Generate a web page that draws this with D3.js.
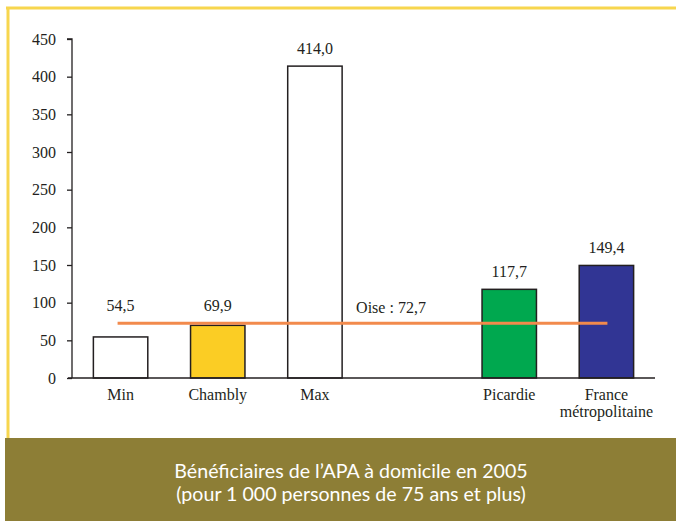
<!DOCTYPE html>
<html lang="fr">
<head>
<meta charset="UTF-8">
<title>APA à domicile</title>
<script src="https://cdn.jsdelivr.net/npm/d3@7"></script>
<style>
  body { margin: 0; background: #fff; }
  svg { display: block; }
  .serif { font-family: 'Liberation Serif', 'Times New Roman', serif; font-size: 16px; fill: #231f20; }
</style>
</head>
<body>
<script>
// données
var categories = ['Min', 'Chambly', 'Max', '', 'Picardie', 'France métropolitaine'];
var values = [54.5, 69.9, 414.0, null, 117.7, 149.4];
var colors = ['#ffffff', '#fbcd24', '#ffffff', null, '#00a84f', '#313594'];
var oise = 72.7;
var yTicks = [0, 50, 100, 150, 200, 250, 300, 350, 400, 450];
var titleLines = ['Bénéficiaires de l’APA à domicile en 2005', '(pour 1 000 personnes de 75 ans et plus)'];

var width = 676, height = 521;
var svg = d3.select('body').append('svg')
    .attr('width', width)
    .attr('height', height);

// cadre jaune (haut + gauche)
svg.append('line').attr('x1', 6).attr('x2', width).attr('y1', 8).attr('y2', 8)
    .attr('stroke', '#f7d64e').attr('stroke-width', 3);
svg.append('line').attr('x1', 8).attr('x2', 8).attr('y1', 7).attr('y2', 440)
    .attr('stroke', '#f7d64e').attr('stroke-width', 3);

// bandeau du titre
svg.append('rect').attr('x', 5).attr('y', 438).attr('width', width - 5).attr('height', height - 438)
    .attr('fill', '#8d7e36');
svg.selectAll('.title').data(titleLines).enter().append('text')
    .attr('class', 'title')
    .attr('x', 351)
    .attr('y', function(d, i) { return 478 + i * 23; })
    .attr('text-anchor', 'middle')
    .attr('fill', '#ffffff')
    .attr('font-family', "Lato, 'Noto Sans', sans-serif")
    .attr('font-size', '19.6px')
    .text(function(d) { return d; });

var mLeft = 72, mRight = 655, mTop = 39, mBottom = 378;
var x = d3.scaleBand().domain(d3.range(categories.length)).range([mLeft, mRight]).paddingInner(0.44).paddingOuter(0.22);
var y = d3.scaleLinear().domain([0, 450]).range([mBottom, mTop]);

// axe Y
var yAxis = svg.append('g')
    .attr('transform', 'translate(' + mLeft + ',0)')
    .attr('font-family', null).attr('font-size', null)
    .call(d3.axisLeft(y).tickValues(yTicks).tickSize(5).tickPadding(11).tickFormat(d3.format('d')));
yAxis.attr('font-family', null).attr('font-size', null);
yAxis.select('.domain').attr('stroke', '#231f20').attr('stroke-width', 1.3).attr('d', 'M-5,' + mTop + 'H0V' + mBottom);
yAxis.selectAll('line').attr('stroke', '#231f20').attr('stroke-width', 1.3);
yAxis.selectAll('text').attr('class', 'serif').attr('fill', null);

// barres
var bars = values.map(function(v, i) { return { i: i, v: v, c: colors[i] }; }).filter(function(d) { return d.v !== null; });
svg.selectAll('.bar').data(bars).enter().append('rect')
    .attr('class', 'bar')
    .attr('x', function(d) { return x(d.i); })
    .attr('y', function(d) { return y(d.v); })
    .attr('width', x.bandwidth())
    .attr('height', function(d) { return mBottom - y(d.v); })
    .attr('fill', function(d) { return d.c; })
    .attr('stroke', '#231f20')
    .attr('stroke-width', 1.5);

// axe X
svg.append('line').attr('x1', mLeft - 4).attr('x2', mRight).attr('y1', mBottom).attr('y2', mBottom)
    .attr('stroke', '#231f20').attr('stroke-width', 1.5);

// ligne Oise
var lx1 = x(0) + x.bandwidth() / 2 - 3, lx2 = x(categories.length - 1) + x.bandwidth() / 2 + 1;
svg.append('line')
    .attr('x1', lx1).attr('x2', lx2)
    .attr('y1', y(oise)).attr('y2', y(oise))
    .attr('stroke', '#f28a4c').attr('stroke-width', 3);
svg.append('text')
    .attr('class', 'serif')
    .attr('x', x(2) + x.bandwidth() + 14)
    .attr('y', y(oise) - 10)
    .text('Oise : ' + d3.format('.1f')(oise).replace('.', ','));

// étiquettes des valeurs
svg.selectAll('.val').data(bars).enter().append('text')
    .attr('class', 'serif')
    .attr('x', function(d) { return x(d.i) + x.bandwidth() / 2; })
    .attr('y', function(d) { return y(Math.max(d.v, oise)) - 12; })
    .attr('text-anchor', 'middle')
    .text(function(d) { return d3.format('.1f')(d.v).replace('.', ','); });

// catégories (une ligne par mot)
var catLines = [];
categories.forEach(function(c, i) {
    c.split(' ').forEach(function(w, k) { if (w) catLines.push({ i: i, k: k, w: w }); });
});
svg.selectAll('.cat').data(catLines).enter().append('text')
    .attr('class', 'serif')
    .attr('x', function(d) { return x(d.i) + x.bandwidth() / 2; })
    .attr('y', function(d) { return 400 + d.k * 17; })
    .attr('text-anchor', 'middle')
    .text(function(d) { return d.w; });
</script>
</body>
</html>
